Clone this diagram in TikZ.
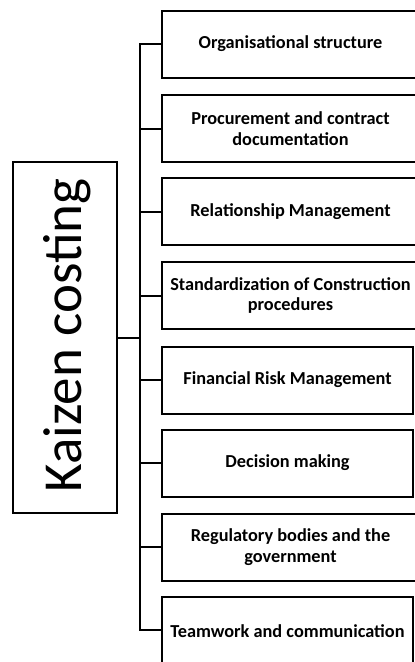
\documentclass[tikz,border=0pt]{standalone}
\usepackage{fontspec}
\setmainfont{Carlito}
\begin{document}
\begin{tikzpicture}[x=1pt,y=-1pt,
  item/.style={draw, line width=2pt, minimum height=67pt, inner sep=0pt, align=center,
    font=\bfseries\fontsize{18.3}{20.5}\selectfont},
  conn/.style={line width=2pt},
]
\useasboundingbox (0,0) rectangle (415,662);
\clip (0,0) rectangle (415,662);
\node[draw, line width=1.6pt, minimum width=104pt, minimum height=351pt, inner sep=0pt] (k) at (65,337.5) {};
\node[rotate=90, font=\fontsize{55}{64}\selectfont, inner sep=0pt] (kt) at (67,335.5) {Kaizen costing};
% boxes (left edge 162)
\node[item, minimum width=257pt] (b1) at (290.5,44) {Organisational structure};
\node[item, minimum width=257pt] (b2) at (290.5,128.5) {Procurement and contract\\documentation};
\node[item, minimum width=257pt] (b3) at (290.5,211.5) {Relationship Management};
\node[item, minimum width=257pt] (b4) at (290.5,295.5) {Standardization of Construction\\procedures};
\node[item, minimum width=251pt] (b5) at (287.5,380) {Financial Risk Management};
\node[item, minimum width=251pt] (b6) at (287.5,463) {Decision making};
\node[item, minimum width=257pt] (b7) at (290.5,547) {Regulatory bodies and the\\government};
\node[item, minimum width=251pt, minimum height=68pt] (b8) at (287.5,631) {Teamwork and communication};
\coordinate (top) at (140,44);
\coordinate (bot) at (140,630);
\draw[conn] (b1.west) -| (140,44) -- (bot) -- (b8.west |- bot);
\foreach \b in {b2,b3,b4,b5,b6,b7} \draw[conn] (\b.west) -- (\b.west -| top);
\draw[conn] (k.east) -- (k.east -| top);
\end{tikzpicture}
\end{document}
